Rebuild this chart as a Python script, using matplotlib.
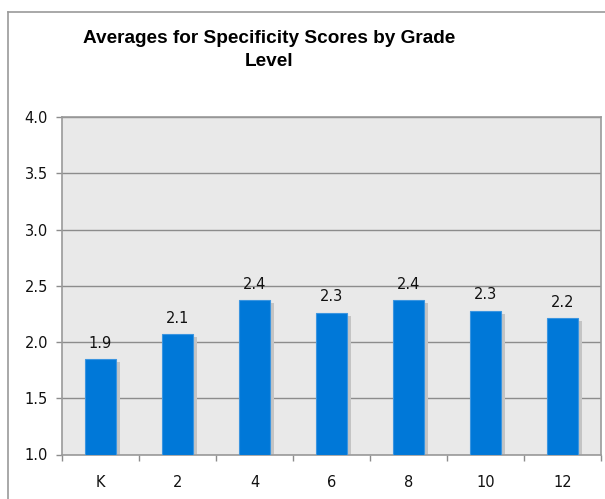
import matplotlib
matplotlib.use("Agg")
import matplotlib.pyplot as plt
from matplotlib.lines import Line2D
import numpy as np

grades = ["K", "2", "4", "6", "8", "10", "12"]
averages = [1.85, 2.07, 2.37, 2.26, 2.37, 2.28, 2.21]
value_labels = ["1.9", "2.1", "2.4", "2.3", "2.4", "2.3", "2.2"]
y_ticks = [1.0, 1.5, 2.0, 2.5, 3.0, 3.5, 4.0]
title = "Averages for Specificity Scores by Grade\nLevel"

W, H = 605, 499
fig = plt.figure(figsize=(W / 100, H / 100), dpi=100)
fig.patch.set_facecolor("white")

# outer frame (top and left edges visible)
ytop = 1 - 11.5 / H
xl = 8 / W
fig.add_artist(Line2D([xl, 1.0], [ytop, ytop], transform=fig.transFigure,
                      color="#9a9a9a", linewidth=1.2))
fig.add_artist(Line2D([xl, xl], [0.0, ytop], transform=fig.transFigure,
                      color="#9a9a9a", linewidth=1.2))

ax = fig.add_axes([62 / W, 1 - 454.5 / H, (601 - 62) / W, (454.5 - 117) / H])
ax.set_facecolor("#e9e9e9")

x = np.arange(len(grades))
bw = 0.4
px_x = 1 / 77.0
px_y = 3.0 / 337.5

# shadows
ax.bar(x + 4 * px_x, np.array(averages) - 1.0 - 3 * px_y, bottom=1.0, width=bw,
       color="#c4c4c4", zorder=2, linewidth=0)
ax.bar(x, np.array(averages) - 1.0, bottom=1.0, width=bw, color="#0078d8",
       edgecolor="#3b95e0", linewidth=0.8, zorder=3)

for xi, v, lab in zip(x, averages, value_labels):
    ax.annotate(lab, (xi, v), xytext=(0, 6), textcoords="offset points",
                ha="center", va="bottom", fontsize=10.5, color="#111111")

ax.set_xlim(-0.5, len(grades) - 0.5)
ax.set_ylim(1.0, 4.0)
ax.set_yticks(y_ticks)
ax.set_yticklabels([f"{t:.1f}" for t in y_ticks])
ax.yaxis.grid(True, color="#8c8c8c", linewidth=1.0, zorder=1)
ax.set_axisbelow(True)

ax.set_xticks(x)
ax.set_xticklabels(grades)
ax.set_xticks(np.arange(len(grades) + 1) - 0.5, minor=True)
ax.tick_params(axis="x", which="major", length=0, pad=14.5, labelsize=10.5,
               colors="#111111")
ax.tick_params(axis="x", which="minor", length=4, width=1, color="#8c8c8c",
               direction="out")
ax.tick_params(axis="y", length=4, width=1, color="#8c8c8c", pad=6,
               labelsize=10.5, labelcolor="#111111")

for s in ax.spines.values():
    s.set_color("#9a9a9a")
    s.set_linewidth(1.2)

fig.text(269 / W, 1 - 50 / H, title, ha="center", va="center",
         fontsize=13.7, fontweight="bold", family="Liberation Sans",
         linespacing=1.45, color="black")

fig.savefig("out.png", dpi=100)
